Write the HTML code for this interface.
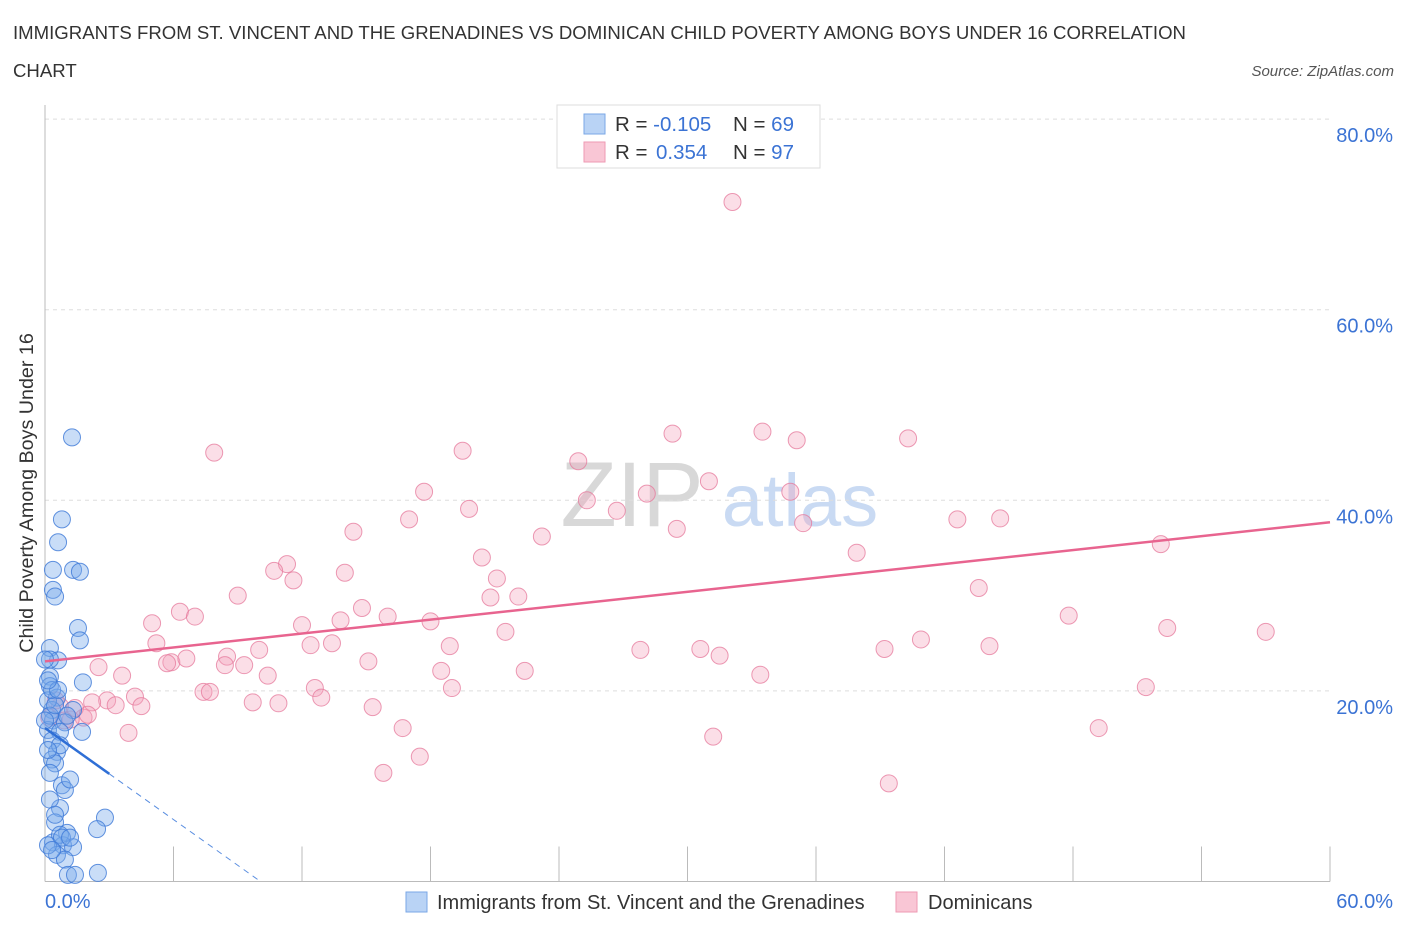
<!DOCTYPE html>
<html><head><meta charset="utf-8"><style>
body{margin:0;background:#fff;font-family:"Liberation Sans",sans-serif;}
svg text{font-family:"Liberation Sans",sans-serif;}
</style></head><body>
<svg id="chart" width="1406" height="930" xmlns="http://www.w3.org/2000/svg">
<text x="13" y="39" font-size="18.6" fill="#333">IMMIGRANTS FROM ST. VINCENT AND THE GRENADINES VS DOMINICAN CHILD POVERTY AMONG BOYS UNDER 16 CORRELATION</text>
<text x="13" y="77" font-size="18.6" fill="#333">CHART</text>
<text x="1394" y="76" font-size="15" fill="#555" text-anchor="end" font-style="italic">Source: ZipAtlas.com</text>
<text x="632" y="526" font-size="92" fill="#d8d8d8" font-family="Liberation Serif" text-anchor="middle">ZIP</text>
<text x="800" y="526" font-size="74" fill="#c9daf3" text-anchor="middle">atlas</text>
<g id="grid"></g>
<g id="axes"></g>
<g id="pts"></g>
<g id="trend"></g>
<text transform="translate(33,493) rotate(-90)" font-size="19.7" fill="#333" text-anchor="middle">Child Poverty Among Boys Under 16</text>
<g>
<rect x="557" y="105" width="263" height="63" fill="#fff" stroke="#ddd"/>
<rect x="584" y="114" width="21" height="20" fill="#b9d3f5" stroke="#7aa7e6"/>
<rect x="584" y="142" width="21" height="20" fill="#f9c6d5" stroke="#ee9ab3"/>
<text x="615" y="131" font-size="20.5" fill="#333">R = <tspan fill="#3b73d4">-0.105</tspan><tspan x="733">N = </tspan><tspan fill="#3b73d4">69</tspan></text>
<text x="615" y="159" font-size="20.5" fill="#333">R = <tspan x="656" fill="#3b73d4">0.354</tspan><tspan x="733">N = </tspan><tspan fill="#3b73d4">97</tspan></text>
</g>
<g>
<rect x="406" y="892" width="21" height="20" fill="#b9d3f5" stroke="#7aa7e6"/>
<text x="437" y="909" font-size="20" fill="#333">Immigrants from St. Vincent and the Grenadines</text>
<rect x="896" y="892" width="21" height="20" fill="#f9c6d5" stroke="#ee9ab3"/>
<text x="928" y="909" font-size="20" fill="#333">Dominicans</text>
</g>
</svg>
<script>
const yTicks=[20,40,60,80];
const yTickLabels=["20.0%","40.0%","60.0%","80.0%"];
const xTickLabels=["0.0%","60.0%"];
const blueX=[1.26,0.79,0.61,0.37,1.31,1.63,0.37,0.47,1.54,1.63,0.23,0.61,0.23,0.23,1.77,0.23,0.56,0.33,1.31,0.37,0.93,0.14,1.73,0.70,0.33,0.56,0.33,0.47,0.23,0.79,0.70,0.47,2.80,2.43,1.03,0.37,0.84,1.31,0.56,0.93,1.07,1.40,2.47,0.14,0.23,0.47,0.70,0.14,0.23,0.47,0.70,0.14,0.93,1.17,0,0.33,0.61,1.03,0,0.14,0.79,1.17,0.33];
const blueY=[46.6,38.0,35.6,32.7,32.7,32.5,30.6,29.9,26.6,25.3,24.5,23.2,23.3,21.5,20.9,20.5,19.3,18.0,18.0,16.9,16.7,15.9,15.7,15.7,14.8,13.6,12.8,12.4,11.4,10.1,7.7,6.2,6.7,5.5,5.1,4.1,3.8,3.6,2.8,2.3,0.7,0.7,0.9,19.0,17.4,18.5,14.3,13.8,8.6,7.0,4.9,3.8,9.6,10.7,16.9,20.1,20.1,17.4,23.3,21.1,4.6,4.6,3.3];
const pinkX=[32.1,7.9,19.5,24.9,29.3,33.5,35.1,40.3,17.7,31.0,28.1,34.8,25.3,19.8,26.7,17.0,14.4,23.2,29.5,35.4,42.6,44.6,52.1,20.4,37.9,11.3,10.7,14.0,21.1,11.6,9.0,20.8,22.1,14.8,43.6,5.0,6.3,7.0,16.0,18.0,12.0,13.8,21.5,47.8,52.4,57.0,5.2,13.4,12.4,18.9,27.8,30.6,40.9,39.2,44.1,8.5,10.0,5.9,6.6,5.7,8.4,9.3,15.1,31.5,2.5,3.6,10.4,18.5,22.4,33.4,12.6,19.0,7.4,7.7,4.2,2.9,12.9,51.4,4.5,9.7,10.9,15.3,2.2,3.3,1.8,3.9,16.7,49.2,31.2,15.8,17.5,39.4,1.2,0.7,1.4,0.5,0.2,0.9,2.0];
const pinkY=[71.3,45.0,45.2,44.1,47.0,47.2,46.3,46.5,40.9,42.0,40.7,40.9,40.0,39.1,38.9,38.0,36.7,36.2,37.0,37.6,38.0,38.1,35.4,34.0,34.5,33.3,32.6,32.4,31.8,31.6,30.0,29.8,29.9,28.7,30.8,27.1,28.3,27.8,27.8,27.3,26.9,27.4,26.2,27.9,26.6,26.2,25.0,25.0,24.8,24.7,24.3,24.4,25.4,24.4,24.7,23.6,24.3,23.0,23.4,22.9,22.7,22.7,23.1,23.7,22.5,21.6,21.6,22.1,22.1,21.7,20.3,20.3,19.9,19.9,19.4,19.0,19.3,20.4,18.4,18.8,18.7,18.3,18.8,18.5,17.2,15.6,16.1,16.1,15.2,11.4,13.1,10.3,17.0,18.4,18.2,19.0,17.2,16.9,17.5];
const pinkTrend=[23.1,37.7];
const blueTrend=[16.1,-1.6];
const X0=45,X1=1330,Y0=881.5,YS=9.53;
const sx=v=>X0+(X1-X0)*v/60, sy=v=>Y0-v*YS;
const NS="http://www.w3.org/2000/svg";
function mk(tag,attrs,parent){const e=document.createElementNS(NS,tag);for(const k in attrs)e.setAttribute(k,attrs[k]);document.getElementById(parent).appendChild(e);return e;}
yTicks.forEach((t,i)=>{
  const g=mk('line',{x1:X0,x2:X1,y1:sy(t),y2:sy(t),stroke:'#ddd','stroke-dasharray':'4,4'},'grid');
  
  
  const l=mk('text',{x:1393,y:sy(t)+23,'font-size':20,fill:'#3b73d4','text-anchor':'end'},'axes');
  l.textContent=yTickLabels[i];
  
  
});
const ax=mk('line',{x1:X0,x2:X0,y1:105,y2:Y0,stroke:'#bbb'},'axes');


const bx=mk('line',{x1:X0,x2:X1,y1:Y0,y2:Y0,stroke:'#bbb'},'axes');


for(let i=1;i<=10;i++){
  const t=mk('line',{x1:sx(i*6),x2:sx(i*6),y1:Y0,y2:Y0-35,stroke:'#bbb'},'axes');
  
  
}
const xl0=mk('text',{x:45,y:908,'font-size':20,fill:'#3b73d4'},'axes');xl0.textContent=xTickLabels[0];


const xl1=mk('text',{x:1393,y:908,'font-size':20,fill:'#3b73d4','text-anchor':'end'},'axes');xl1.textContent=xTickLabels[1];


pinkX.forEach((v,i)=>{
  const c=mk('circle',{cx:sx(v),cy:sy(pinkY[i]),r:8.5,fill:'rgba(244,160,185,0.35)',stroke:'rgba(230,120,155,0.75)','stroke-width':1},'pts');
  
  
});
blueX.forEach((v,i)=>{
  const c=mk('circle',{cx:sx(v),cy:sy(blueY[i]),r:8.5,fill:'rgba(120,170,235,0.4)',stroke:'rgba(60,120,215,0.8)','stroke-width':1},'pts');
  
  
});
const pt=mk('line',{x1:sx(0),y1:sy(pinkTrend[0]),x2:sx(60),y2:sy(pinkTrend[1]),stroke:'#e8648f','stroke-width':2.5},'trend');


const bEnd=3.0, bZero=-blueTrend[0]/blueTrend[1];
const bt=mk('line',{x1:sx(0),y1:sy(blueTrend[0]),x2:sx(bEnd),y2:sy(blueTrend[0]+blueTrend[1]*bEnd),stroke:'#2f6fd6','stroke-width':2.5},'trend');


const bd=mk('line',{x1:sx(bEnd),y1:sy(blueTrend[0]+blueTrend[1]*bEnd),x2:sx(bZero),y2:sy(0),stroke:'#5a8ee0','stroke-width':1,'stroke-dasharray':'6,5'},'trend');


</script>
</body></html>
